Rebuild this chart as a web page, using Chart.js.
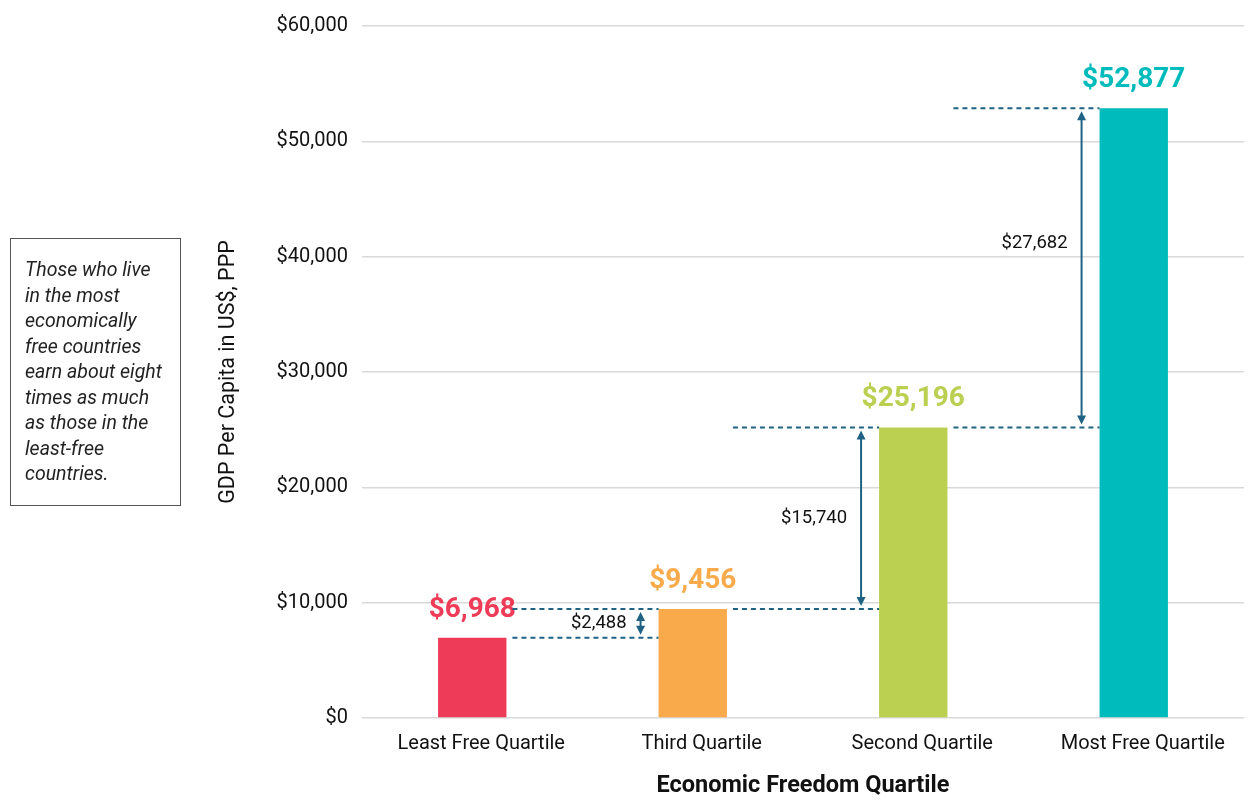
<!DOCTYPE html>
<html>
<head>
<meta charset="utf-8">
<script src="https://cdn.jsdelivr.net/npm/chart.js@4.4.0/dist/chart.umd.min.js"></script>
<style>
  html, body { margin: 0; padding: 0; background: #fff; }
  #wrap { position: relative; width: 1248px; height: 800px; }
  #note {
    position: absolute; left: 10px; top: 238px; width: 171px; height: 268px;
    border: 1px solid #555; box-sizing: border-box;
    padding: 18px 0 0 14px;
    font: italic 19.5px Roboto, sans-serif; line-height: 25.5px; color: #222;
    white-space: nowrap;
  }
</style>
</head>
<body>
<div id="wrap">
  <canvas id="grafico" width="1248" height="800"></canvas>
  <div id="note">Those who live<br>in the most<br>economically<br>free countries<br>earn about eight<br>times as much<br>as those in the<br>least-free<br>countries.</div>
</div>
<script>
// Dados
const categorias = ['Least Free Quartile', 'Third Quartile', 'Second Quartile', 'Most Free Quartile'];
const pibPerCapita = [6968, 9456, 25196, 52877];
const diferencas = [2488, 15740, 27682];
const yMin = 0, yMax = 60000, yPasso = 10000;

// Cores das barras
const cores = ['#EE3B57', '#F9AA4B', '#BBCF51', '#00BBBB'];
const corSeta = '#1F6283';

const dinheiro = v => '$' + v.toLocaleString('en-US');

// Plugin para rótulos de valor, linhas tracejadas e setas
const anotacoes = {
    id: 'anotacoes',
    afterDatasetsDraw(chart) {
        const ctx = chart.ctx;
        const y = chart.scales.y;
        const barras = chart.getDatasetMeta(0).data;
        ctx.save();

        // rótulos acima das barras
        ctx.font = 'bold 28px Roboto';
        ctx.textAlign = 'center';
        ctx.textBaseline = 'alphabetic';
        barras.forEach((b, i) => {
            ctx.fillStyle = cores[i];
            ctx.fillText(dinheiro(pibPerCapita[i]), b.x, b.y - 21);
        });

        for (let i = 0; i < barras.length - 1; i++) {
            const a = barras[i], n = barras[i + 1];
            const x0 = a.x + a.width / 2 + 6;
            const x1 = n.x - n.width / 2;
            const yBaixo = y.getPixelForValue(pibPerCapita[i]);
            const yAlto = y.getPixelForValue(pibPerCapita[i + 1]);

            // linhas tracejadas
            ctx.strokeStyle = corSeta;
            ctx.lineWidth = 2;
            ctx.setLineDash([5, 4]);
            ctx.beginPath();
            ctx.moveTo(x0, yBaixo); ctx.lineTo(x1, yBaixo);
            ctx.moveTo(x0, yAlto); ctx.lineTo(x1, yAlto);
            ctx.stroke();
            ctx.setLineDash([]);

            // seta dupla
            const ax = x1 - 18;
            const topo = yAlto + 3, base = yBaixo - 3;
            ctx.beginPath();
            ctx.moveTo(ax, topo + 6); ctx.lineTo(ax, base - 6);
            ctx.stroke();
            ctx.fillStyle = corSeta;
            ctx.beginPath();
            ctx.moveTo(ax, topo); ctx.lineTo(ax - 4.5, topo + 9); ctx.lineTo(ax + 4.5, topo + 9); ctx.closePath();
            ctx.moveTo(ax, base); ctx.lineTo(ax - 4.5, base - 9); ctx.lineTo(ax + 4.5, base - 9); ctx.closePath();
            ctx.fill();

            // valor da diferença (o maior fica um pouco acima do meio)
            const meio = (yBaixo + yAlto) / 2;
            const yTexto = (base - topo) > 250 ? meio - 24 : meio;
            ctx.font = '18.5px Roboto';
            ctx.textAlign = 'right';
            ctx.textBaseline = 'middle';
            ctx.fillStyle = '#111';
            ctx.fillText(dinheiro(diferencas[i]), ax - 14, yTexto);
        }
        ctx.restore();
    }
};

const config = {
    type: 'bar',
    data: {
        labels: categorias,
        datasets: [{
            data: pibPerCapita,
            backgroundColor: cores,
            borderWidth: 0,
            barPercentage: 0.31,
            categoryPercentage: 1
        }]
    },
    options: {
        responsive: false,
        animation: false,
        layout: { padding: { left: 212, right: 4, top: 24, bottom: 0 } },
        plugins: {
            legend: { display: false },
            tooltip: { enabled: false }
        },
        scales: {
            y: {
                min: yMin,
                max: yMax,
                afterFit: s => { s.width = 150; },
                ticks: {
                    stepSize: yPasso,
                    padding: 14,
                    color: '#111',
                    font: { family: 'Roboto', size: 20 },
                    callback: v => dinheiro(v)
                },
                grid: { color: '#d9d9d9', lineWidth: 1.5, drawTicks: false },
                border: { display: false },
                title: {
                    display: true,
                    text: 'GDP Per Capita in US$, PPP',
                    color: '#111',
                    font: { family: 'Roboto', size: 21.5 },
                    padding: { top: 4, bottom: 0 }
                }
            },
            x: {
                afterFit: s => { s.height = 82; },
                ticks: {
                    padding: 14,
                    labelOffset: 9,
                    color: '#111',
                    font: { family: 'Roboto', size: 20 }
                },
                grid: { display: false, drawTicks: false },
                border: { display: false },
                title: {
                    display: true,
                    text: 'Economic Freedom Quartile',
                    color: '#111',
                    font: { family: 'Roboto', size: 23.5, weight: 'bold' },
                    padding: { top: 0, bottom: 0 }
                }
            }
        }
    },
    plugins: [anotacoes]
};

const grafico = new Chart(document.getElementById('grafico').getContext('2d'), config);
</script>
</body>
</html>
